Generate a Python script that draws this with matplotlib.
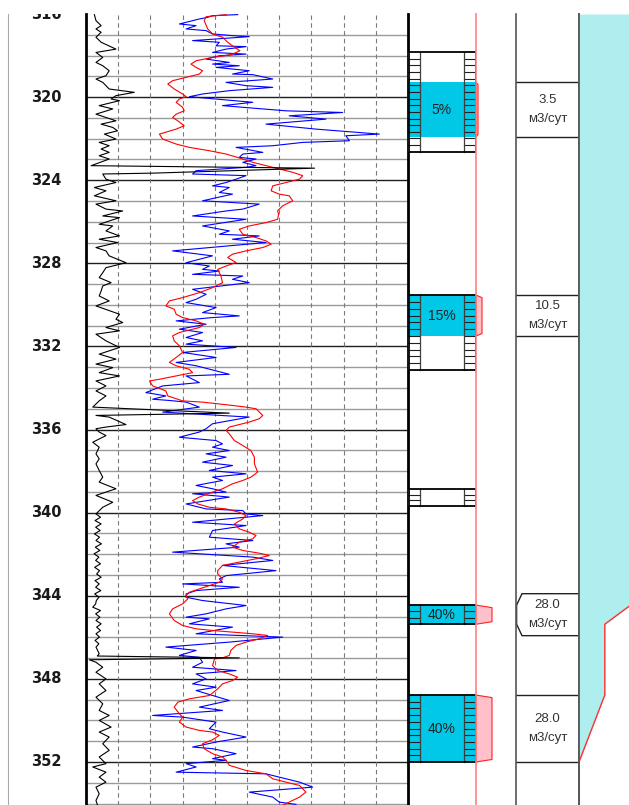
import numpy as np
import matplotlib.pyplot as plt
from matplotlib.patches import Rectangle, Polygon
import matplotlib.transforms as mtransforms

# depth window of the log, m
top_depth, bottom_depth = 316.0, 354.07

# black curve (scale 0..10)
black_depth = [316.03, 316.32, 316.56, 316.72, 316.88, 317.12, 317.36, 317.69, 317.85, 318.09,
               318.33, 318.49, 318.73, 318.97, 319.13, 319.29, 319.61, 319.77, 319.93, 320.09,
               320.17, 320.41, 320.57, 320.82, 320.98, 321.14, 321.30, 321.46, 321.62, 321.78,
               322.02, 322.18, 322.34, 322.50, 322.66, 322.82, 322.98, 323.30, 323.42, 323.66,
               323.70, 323.95, 324.11, 324.35, 324.51, 324.75, 324.99, 325.15, 325.39,
               325.48, 325.72, 325.80, 326.12, 326.20, 326.44, 326.68, 326.84, 327.00, 327.24,
               327.40, 327.64, 327.97, 328.21, 328.45, 328.69, 328.93, 329.09, 329.33, 329.57,
               329.81, 330.05, 330.45, 330.69, 330.85, 331.09, 331.25, 331.41, 331.73, 332.05,
               332.37, 332.61, 332.85, 333.02, 333.26, 333.42, 333.66, 333.90, 334.14, 334.38,
               334.62, 334.92, 335.21, 335.32, 335.40, 335.76, 335.88, 335.96, 336.12, 336.29,
               336.61, 336.85, 337.17, 337.41, 337.65, 337.97, 338.29, 338.53, 338.85, 339.17,
               339.50, 339.74, 340.06, 340.22, 340.38, 340.54, 340.70, 340.86, 341.02, 341.18,
               341.34, 341.50, 341.66, 341.82, 341.98, 342.14, 342.30, 342.46, 342.63, 342.79,
               342.95, 343.11, 343.27, 343.43, 343.59, 343.75, 343.91, 344.07, 344.23, 344.39,
               344.55, 344.71, 344.87, 345.03, 345.19, 345.35, 345.51, 345.67, 345.83, 345.99,
               346.15, 346.31, 346.47, 346.63, 346.79, 346.90, 346.99, 347.08, 347.20, 347.44,
               347.68, 348.00, 348.24, 348.56, 348.88, 349.20, 349.52, 349.76, 350.00, 350.32,
               350.56, 350.80, 351.12, 351.44, 351.76, 352.08, 352.24, 352.49, 352.73, 352.97,
               353.21, 353.53, 353.85, 354.09]
black_val = [0.26, 0.31, 0.47, 0.31, 0.47, 0.31, 0.47, 0.93, 0.31, 0.52,
             0.31, 0.52, 0.72, 0.62, 0.31, 0.52, 0.72, 1.50, 0.93, 0.78,
             1.04, 0.41, 0.83, 0.31, 0.62, 0.93, 0.47, 0.83, 0.98, 0.57,
             0.93, 0.41, 0.72, 0.47, 0.72, 0.41, 0.72, 0.16, 7.10, 2.05,
             0.52, 0.62, 0.93, 0.26, 0.62, 0.26, 0.93, 0.31, 0.62,
             1.14, 0.52, 1.04, 0.41, 0.83, 0.62, 1.04, 0.41, 0.98, 0.31,
             0.62, 0.72, 1.24, 0.62, 0.52, 0.41, 0.78, 0.52, 0.47, 0.41,
             0.72, 0.31, 1.04, 0.93, 1.14, 0.62, 1.04, 0.31, 0.62, 1.04,
             0.41, 0.93, 0.31, 0.83, 0.41, 1.04, 0.31, 0.62, 0.31, 0.62,
             0.41, 0.21, 4.45, 0.31, 0.72, 1.24, 0.62, 0.31, 0.41, 0.62,
             0.21, 0.41, 0.31, 0.41, 0.31, 0.41, 0.52, 0.41, 0.93, 0.31,
             0.83, 0.52, 0.31, 0.45, 0.28, 0.47, 0.30, 0.44, 0.26, 0.42,
             0.31, 0.48, 0.29, 0.43, 0.25, 0.40, 0.30, 0.45, 0.27, 0.42,
             0.33, 0.47, 0.28, 0.41, 0.30, 0.46, 0.27, 0.40, 0.32, 0.30,
             0.21, 0.45, 0.30, 0.43, 0.31, 0.47, 0.33, 0.45, 0.31, 0.42,
             0.28, 0.40, 0.31, 0.36, 0.41, 0.35, 4.76, 0.10, 0.31, 0.52,
             0.31, 0.62, 0.41, 0.62, 0.31, 0.52, 0.41, 0.72, 0.41, 0.78,
             0.41, 0.72, 0.52, 0.72, 0.41, 0.62, 0.21, 0.62, 0.41, 0.62,
             0.31, 0.41, 0.31, 0.36]

# blue curve (scale 0..10)
blue_depth = [316.03, 316.08, 316.16, 316.24, 316.48, 316.56, 316.72, 316.80, 316.96, 317.04,
              317.09, 317.28, 317.36, 317.53, 317.57, 317.69, 317.85, 317.93, 318.01, 318.17,
              318.33, 318.41, 318.49, 318.57, 318.73, 318.89, 318.92, 319.13, 319.29, 319.45,
              319.53, 319.69, 319.85, 319.98, 320.25, 320.41, 320.66, 320.74, 320.90, 321.06,
              321.30, 321.54, 321.78, 321.86, 322.10, 322.18, 322.34, 322.42, 322.66, 322.74,
              322.90, 322.98, 323.14, 323.30, 323.38, 323.54, 323.70, 323.78, 323.95, 324.11,
              324.27, 324.35, 324.59, 324.67, 324.99, 325.15, 325.39,
              325.48, 325.72, 325.88, 326.20, 326.44, 326.60, 326.68, 326.84, 327.00, 327.40,
              327.64, 327.97, 328.13, 328.29, 328.37, 328.53, 328.61, 328.77, 328.93, 329.25,
              329.49, 329.73, 329.89, 330.13, 330.37, 330.53, 330.61, 330.77, 330.93, 331.17,
              331.33, 331.57, 331.73, 331.89, 332.05, 332.29, 332.53, 332.77, 332.93, 333.34,
              333.42, 333.74, 333.90, 334.22, 334.38, 334.54,
              334.60, 334.68, 334.92, 335.16, 335.40, 335.72, 335.96, 336.12, 336.37, 336.53,
              336.69, 336.85, 337.01, 337.17, 337.33, 337.57, 337.73, 337.97, 338.13, 338.29,
              338.45, 338.69, 338.85, 339.01, 339.09, 339.25, 339.58, 339.82, 339.90, 340.06,
              340.14, 340.46, 340.62, 340.86, 341.18, 341.34, 341.50, 341.66, 341.90, 342.14,
              342.30, 342.54, 342.79, 343.03, 343.19, 343.35, 343.43, 343.59, 343.75, 343.91,
              344.07,
              344.23, 344.47, 344.63, 344.87, 345.03, 345.11, 345.35, 345.51, 345.83, 345.99,
              346.23, 346.47, 346.63, 346.87, 346.96, 347.20, 347.44, 347.60, 347.76, 348.00,
              348.24, 348.40, 348.56, 349.04, 349.36, 349.52, 349.76, 349.84, 350.08, 350.40,
              350.56, 350.80, 351.04, 351.28, 351.36, 351.60, 351.84, 351.92, 352.08, 352.24,
              352.49, 352.57, 352.97, 353.21, 353.45, 353.69, 353.93, 354.04]
blue_val = [4.71, 3.93, 3.78, 3.52, 2.90, 3.42, 3.11, 3.73, 3.93, 4.55,
            5.07, 3.31, 4.14, 4.04, 4.97, 4.35, 3.93, 4.97, 4.14, 3.73,
            4.45, 3.93, 4.76, 4.04, 5.07, 4.55, 5.18, 5.80, 4.35, 4.97,
            5.80, 4.45, 3.62, 3.21, 5.18, 4.24, 6.21, 7.97, 6.31, 7.45,
            5.59, 7.14, 9.11, 8.07, 8.18, 6.73, 5.80, 4.66, 5.49, 4.87,
            4.76, 5.28, 4.87, 5.28, 4.97, 3.42, 3.31, 4.97, 4.66, 4.35,
            3.93, 4.45, 4.14, 4.55, 3.62, 5.38, 4.87,
            4.35, 3.31, 4.97, 3.62, 4.45, 4.14, 5.38, 4.55, 5.59, 2.69,
            3.93, 3.11, 3.83, 3.62, 4.14, 3.31, 4.87, 4.55, 5.07, 3.31,
            3.73, 3.42, 3.11, 4.04, 3.62, 4.76, 3.93, 2.80, 3.73, 2.90,
            3.62, 3.11, 3.62, 3.11, 4.66, 3.00, 4.04, 2.80, 3.42, 4.45,
            3.11, 3.52, 2.38, 1.86, 2.48, 2.07,
            2.59, 3.11, 3.52, 2.38, 5.07, 3.93, 3.73, 3.52, 2.90, 4.04,
            4.24, 3.93, 4.45, 3.73, 4.35, 3.62, 4.55, 3.83, 4.97, 3.93,
            4.24, 3.42, 3.93, 4.35, 3.31, 4.45, 3.11, 3.73, 4.87, 4.97,
            5.49, 3.31, 4.97, 3.93, 3.83, 5.18, 4.35, 4.76, 2.69, 5.18,
            5.80, 4.24, 5.90, 4.35, 4.14, 4.24, 3.00, 4.76, 3.42, 3.11,
            3.11,
            3.62, 4.97, 4.35, 3.73, 3.11, 3.83, 3.21, 4.55, 3.42, 6.11,
            4.45, 2.48, 3.42, 2.90, 3.52, 3.62, 3.31, 4.66, 3.42, 3.73,
            3.31, 4.04, 3.42, 4.45, 3.52, 4.24, 2.07, 3.00, 4.04, 3.83,
            4.24, 4.97, 4.04, 3.31, 3.93, 4.66, 3.93, 4.35, 3.11, 3.42,
            2.80, 5.59, 6.63, 7.04, 5.07, 5.80, 6.00, 6.52]

# red curve (scale 0..10)
red_depth = [316.03, 316.13, 316.32, 316.72, 316.96, 317.12, 317.36, 317.53, 317.77, 317.93,
             318.01, 318.09, 318.25, 318.41, 318.57, 318.73, 318.89, 319.05, 319.21, 319.37,
             319.61, 319.85, 319.98, 320.09, 320.25, 320.49, 320.66, 320.82, 320.98, 321.14,
             321.38, 321.54, 321.78, 322.02, 322.26, 322.42, 322.58, 322.74, 322.98, 323.14,
             323.30, 323.46, 323.62, 323.78, 323.95, 324.11, 324.27, 324.51, 324.67, 324.75,
             324.99, 325.23, 325.47,
             325.64, 325.88, 326.04, 326.20, 326.36, 326.60, 326.76, 326.92, 327.08, 327.24,
             327.40, 327.56, 327.72, 327.96, 328.13, 328.29, 328.61, 328.93, 329.17, 329.41,
             329.65, 329.81, 330.05, 330.21, 330.45, 330.61, 330.77, 330.93, 331.09, 331.25,
             331.33, 331.49, 331.73, 331.97, 332.29, 332.53, 332.77, 332.93, 333.10, 333.26,
             333.42, 333.58, 333.66, 333.90, 334.14, 334.38, 334.62,
             334.68, 334.84, 334.92, 335.00, 335.32, 335.48, 335.64, 335.76, 335.88, 336.04,
             336.21, 336.53, 336.77, 337.01, 337.33, 337.65, 338.05, 338.29, 338.45, 338.61,
             338.85, 339.01, 339.25, 339.42, 339.58, 339.74, 339.82, 339.98, 340.14, 340.30,
             340.54, 340.78, 340.94, 341.10, 341.26, 341.42, 341.66, 341.82, 341.95, 342.06,
             342.22, 342.38, 342.54, 342.79, 342.95, 343.19, 343.35, 343.51, 343.67, 343.83,
             343.99, 344.15,
             344.39, 344.63, 344.87, 345.19, 345.43, 345.59, 345.67, 345.75, 345.83, 345.91,
             346.07, 346.23, 346.39, 346.63, 346.87, 346.99, 347.04, 347.36, 347.60, 347.76,
             347.92, 348.08, 348.24, 348.48, 348.80, 348.96, 349.12, 349.36, 349.68, 349.84,
             350.08, 350.32, 350.48, 350.56, 350.72, 350.93, 351.12, 351.36, 351.60, 351.76,
             351.92, 352.16, 352.41, 352.57, 352.81, 352.97, 353.13, 353.45, 353.69, 353.93,
             354.09]
red_val = [4.35, 3.73, 3.67, 3.78, 3.93, 4.24, 4.40, 4.55, 4.78, 4.55,
           4.30, 3.93, 3.42, 3.26, 3.42, 3.62, 3.52, 3.11, 2.69, 2.54,
           2.74, 3.00, 3.11, 2.90, 2.80, 3.00, 3.05, 2.80, 2.69, 2.85,
           3.05, 2.80, 2.28, 2.38, 2.80, 3.21, 3.83, 4.35, 4.87, 5.18,
           5.59, 6.00, 6.42, 6.73, 6.63, 6.21, 5.80, 5.75, 6.00, 6.31,
           6.42, 6.11, 5.95,
           5.98, 5.95, 5.59, 5.07, 4.76, 4.87, 5.28, 5.59, 5.75, 5.49,
           4.97, 4.55, 4.40, 4.66, 4.35, 4.09, 4.19, 4.24, 3.93, 3.52,
           3.00, 2.59, 2.48, 2.74, 2.80, 3.00, 3.42, 3.67, 3.52, 3.11,
           2.90, 2.69, 2.74, 2.90, 3.00, 2.80, 2.59, 2.80, 3.21, 3.31,
           2.80, 2.28, 1.97, 2.07, 2.48, 2.54, 3.00,
           3.62, 4.55, 4.97, 5.28, 5.49, 5.38, 5.07, 4.76, 4.45, 4.35,
           4.45, 4.61, 4.87, 5.12, 5.23, 5.23, 5.33, 5.12, 4.87, 4.55,
           4.24, 3.93, 3.52, 3.31, 3.47, 3.83, 4.35, 4.76, 4.97, 4.87,
           4.61, 4.76, 5.07, 5.28, 5.18, 4.76, 4.55, 4.87, 5.38, 5.69,
           5.28, 4.76, 4.24, 4.09, 4.09, 4.24, 4.14, 3.83, 3.52, 3.21,
           3.11, 3.16,
           3.00, 2.69, 2.59, 2.74, 3.00, 3.42, 3.93, 4.55, 5.18, 5.64,
           5.38, 4.97, 4.66, 4.50, 4.45, 4.24, 3.99, 3.93, 4.09, 4.45,
           4.71, 4.55, 4.24, 4.09, 3.83, 3.21, 2.85, 2.74, 2.90, 3.00,
           2.90, 3.11, 3.52, 3.93, 4.14, 3.93, 3.62, 3.67, 3.93, 4.24,
           4.35, 4.45, 4.97, 5.59, 5.80, 6.21, 6.63, 6.83, 6.63, 6.31,
           6.10]

# perforated intervals (top, bottom), m
perf_top = [317.83, 329.53, 338.87, 344.45, 348.78]
perf_bot = [322.63, 333.14, 339.67, 345.37, 352.00]

# working intervals with share of inflow and rate
work_top = [319.28, 329.53, 344.45, 348.78]
work_bot = [321.92, 331.50, 345.37, 352.00]
work_pct = [5, 15, 40, 40]
work_flow = [3.5, 10.5, 28.0, 28.0]
flow_unit = "м3/сут"

W, H = 629, 805
fig = plt.figure(figsize=(W / 100, H / 100), dpi=100)
ax_top = 1 - 14 / H


def track(x0, x1):
    ax = fig.add_axes([x0 / W, 0, (x1 - x0) / W, ax_top])
    ax.set_ylim(bottom_depth, top_depth)
    ax.set_xticks([])
    ax.set_yticks([])
    for s in ax.spines.values():
        s.set_visible(False)
    ax.patch.set_alpha(0)
    return ax


# depth column
ax_d = track(8, 86)
ax_d.spines['left'].set_visible(True)
ax_d.spines['left'].set_color('#a8a8a8')
trans = mtransforms.blended_transform_factory(ax_d.transAxes, ax_d.transData)
for d in range(316, 354, 4):
    ax_d.text(0.49, d, str(d), transform=trans, ha='center', va='center',
              fontsize=10.5, fontweight='bold', color='#1a1a1a', clip_on=True)

# curves track
ax = track(86, 408)
ax.set_xlim(0, 10)
for d in range(317, 355):
    if d % 4 == 0:
        ax.axhline(d, color='#1e1e1e', lw=1.0, zorder=1)
    else:
        ax.axhline(d, color='#9a9a9a', lw=1.0, zorder=1)
for v in range(1, 10):
    ax.axvline(v, color='#7a7a7a', lw=0.8, ls=(0, (4, 3)), zorder=1)
ax.plot(blue_val, blue_depth, color='#0000ff', lw=0.8, zorder=2)
ax.plot(red_val, red_depth, color='#ff0000', lw=0.8, zorder=3)
ax.plot(black_val, black_depth, color='#000000', lw=0.8, zorder=4)
for side in ('left', 'right'):
    ax.spines[side].set_visible(True)
    ax.spines[side].set_linewidth(2)
    ax.spines[side].set_color('black')

# perforation track
ax_p = track(408, 476)
ax_p.set_xlim(0, 68)
cyan = '#00c8e6'
for t, b in zip(perf_top, perf_bot):
    ax_p.add_patch(Rectangle((0, t), 68, b - t, facecolor='white', edgecolor='none', zorder=1))
for t, b, pct in zip(work_top, work_bot, work_pct):
    ax_p.add_patch(Rectangle((0, t), 68, b - t, facecolor=cyan, edgecolor='none', zorder=2))
    ax_p.text(34, (t + b) / 2, f"{pct}%", ha='center', va='center',
              fontsize=10, family='Liberation Sans', color='#222222', zorder=5)
for t, b in zip(perf_top, perf_bot):
    n = max(1, int(round((b - t) / 0.32)))
    for k in range(1, n):
        y = t + k * (b - t) / n
        ax_p.plot([0, 11.5], [y, y], color='#202020', lw=0.8, zorder=3)
        ax_p.plot([55.5, 68], [y, y], color='#202020', lw=0.8, zorder=3)
    ax_p.plot([11.5, 11.5], [t, b], color='#404040', lw=0.9, zorder=3)
    ax_p.plot([55.5, 55.5], [t, b], color='#404040', lw=0.9, zorder=3)
    ax_p.add_patch(Rectangle((0.5, t), 67, b - t, facecolor='none', edgecolor='black',
                             lw=1.3, zorder=4))

# inflow share track
ax_i = track(476, 516)
ax_i.set_xlim(0, 100)
ax_i.spines['left'].set_visible(True)
ax_i.spines['left'].set_color('#ff8080')
ax_i.spines['left'].set_linewidth(1.2)
for t, b, pct in zip(work_top, work_bot, work_pct):
    bev = 0.12
    ax_i.add_patch(Polygon([(0, t), (pct, t + bev), (pct, b - bev), (0, b)],
                           closed=True, facecolor='#ffc0cb', edgecolor='#ff2020', lw=0.8))

# rate labels
ax_l = track(516, 579)
ax_l.set_xlim(0, 63)
for side in ('left', 'right'):
    ax_l.spines[side].set_visible(True)
    ax_l.spines[side].set_color('#555555')
    ax_l.spines[side].set_linewidth(1.2)
min_h = 2.02
for t, b, q in zip(work_top, work_bot, work_flow):
    c = (t + b) / 2
    if b - t < 1.9:
        bt, bb = c - min_h / 2, c + min_h / 2
        xs = [63, 6, 0.6, 0.6, 6, 63]
        ys = [bt, bt, t, b, bb, bb]
        ax_l.add_patch(Polygon(list(zip(xs, ys)), closed=False, facecolor='white',
                               edgecolor='#222222', lw=1.0))
    else:
        ax_l.plot([0, 63], [t, t], color='#222222', lw=1.0)
        ax_l.plot([0, 63], [b, b], color='#222222', lw=1.0)
    ax_l.text(31.5, c - 0.45, f"{q:.1f}", ha='center', va='center', fontsize=9.5,
              family='Liberation Sans', color='#333333')
    ax_l.text(31.5, c + 0.47, flow_unit, ha='center', va='center', fontsize=9.5,
              family='Liberation Sans', color='#333333')

# cumulative inflow profile (runs past the right edge of the sheet)
ax_c = track(579, 679)
ax_c.set_xlim(0, 108.5)
ax_c.spines['left'].set_visible(True)
ax_c.spines['left'].set_color('#555555')
ax_c.spines['left'].set_linewidth(1.2)
prof_d = [bottom_depth]
prof_q = [0.0]
total = 0.0
for t, b, q in sorted(zip(work_top, work_bot, work_flow), key=lambda r: -r[1]):
    prof_d += [b, t]
    prof_q += [total, total + q]
    total += q
prof_d.append(top_depth)
prof_q.append(total)
ax_c.fill_betweenx(prof_d, 0, prof_q, color='#afeeee', lw=0)
ax_c.plot(prof_q, prof_d, color='#ff3030', lw=1.0)

fig.savefig('out.png', dpi=100)
